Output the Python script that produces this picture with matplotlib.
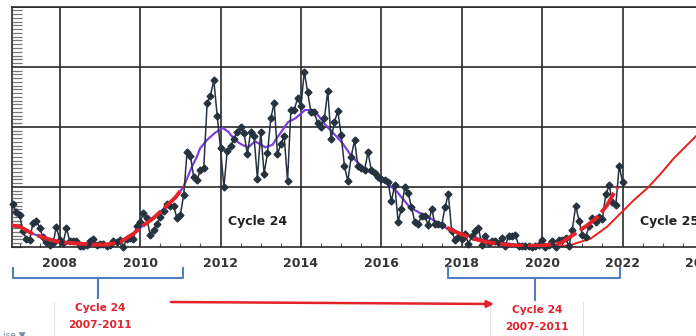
import numpy as np
import matplotlib.pyplot as plt
from matplotlib.ticker import MultipleLocator

# monthly sunspot numbers, Nov 2006 .. Jan 2022
ssn_2006 = [36, 29]
ssn_2007 = [27, 13, 7, 6, 20, 22, 16, 8, 4, 2, 3, 17]
ssn_2008 = [5.5, 3.5, 15.5, 4.8, 4.8, 5.2, 0.8, 0.8, 1.8, 4.8, 6.8, 1.3]
ssn_2009 = [2.5, 2.3, 1.2, 2.0, 4.8, 4.3, 5.8, 0.0, 7.0, 7.7, 7.0, 17.7]
ssn_2010 = [21, 28, 24, 10, 14, 19, 25, 30, 36, 34, 34, 24]
ssn_2011 = [27, 43, 79, 76, 58, 56, 64, 66, 120, 126, 139, 109]
ssn_2012 = [82, 50, 80, 84, 90, 96, 100, 95, 77, 96, 92, 57]
ssn_2013 = [96, 61, 78, 107, 120, 77, 86, 92, 55, 114, 114, 124]
ssn_2014 = [117, 146, 129, 112, 112, 103, 100, 107, 130, 90, 104, 113]
ssn_2015 = [93, 67, 55, 75, 89, 67, 66, 64, 79, 64, 62, 58]
ssn_2016 = [57, 56, 54, 38, 52, 21, 32, 50, 45, 33, 21, 19]
ssn_2017 = [26, 26, 18, 32, 19, 19, 18, 33, 44, 13, 6, 8]
ssn_2018 = [7, 11, 2.5, 9, 13, 16, 1.6, 9, 3.3, 5, 5, 3]
ssn_2019 = [7.7, 0.8, 9.4, 9.1, 10, 1.2, 0.9, 0.5, 1.1, 0.4, 0.5, 1.5]
ssn_2020 = [6.2, 0.2, 1.5, 5.2, 0.2, 5.8, 6.1, 7.5, 0.6, 14.4, 34, 22]
ssn_2021 = [10.4, 8.2, 17.2, 24.5, 21.2, 25, 23.4, 44, 51.3, 37.4, 34.8, 67.5]
ssn_2022 = [54]

# smoothed curve (purple)
smooth_t = [2006.8, 2007.0, 2007.33, 2007.67, 2008.0, 2008.42, 2008.83, 2009.17,
            2009.5, 2009.83, 2010.08, 2010.33, 2010.62, 2010.87, 2011.08, 2011.29,
            2011.41, 2011.49, 2011.66, 2011.86, 2012.06, 2012.19, 2012.36, 2012.54,
            2012.69, 2012.86, 2013.11, 2013.29, 2013.43, 2013.68, 2013.86, 2014.1,
            2014.28, 2014.42, 2014.6, 2014.77, 2015.02, 2015.27, 2015.52, 2015.72,
            2016.04, 2016.39, 2016.71, 2017.03, 2017.38, 2017.7, 2018.13, 2018.53,
            2018.95, 2019.45, 2019.95, 2020.27]
smooth_v = [18, 17, 11, 7, 4, 3, 2, 2,
            4, 11, 18, 24, 33, 41, 50, 67,
            75, 82, 89, 95, 99, 96, 89, 85,
            83, 88, 83, 85, 92, 104, 107, 114,
            114, 110, 102, 96, 87, 75, 67, 62,
            56, 46, 33, 27, 21, 14, 10, 6,
            3.5, 1.7, 1, 2]

# red thick overlay: cycle 24 rise 2007-2011, and the same shape at 2018-2022
red1_t = [2006.8, 2007.0, 2007.33, 2007.67, 2008.0, 2008.42, 2008.83, 2009.17,
          2009.5, 2009.83, 2010.08, 2010.33, 2010.62, 2010.87, 2011.08]
red1_v = [18, 17, 11, 7, 4, 3, 2, 2, 4, 11, 18, 24, 33, 41, 50]
red2_t = [2017.63, 2017.96, 2018.28, 2018.63, 2018.95, 2019.45, 2019.95, 2020.44,
          2020.77, 2021.12, 2021.38, 2021.62, 2021.87]
red2_v = [16, 11, 7, 4, 2.5, 1, 1, 3, 10, 18, 25, 35, 50]

# cycle 25 prediction (thin red)
c25_t = [2020.0, 2020.3, 2020.71, 2021.21, 2021.62, 2021.95, 2022.28, 2022.62,
         2022.95, 2023.28, 2023.61, 2023.85, 2024.3]
c25_v = [0, 0, 1.7, 7, 17, 28, 39, 49, 61, 74, 85, 93, 108]

year_ticks = [2008, 2010, 2012, 2014, 2016, 2018, 2020, 2022, 2024]

ssn = (ssn_2006 + ssn_2007 + ssn_2008 + ssn_2009 + ssn_2010 + ssn_2011 + ssn_2012
       + ssn_2013 + ssn_2014 + ssn_2015 + ssn_2016 + ssn_2017 + ssn_2018 + ssn_2019
       + ssn_2020 + ssn_2021 + ssn_2022)
months = 2006 + 10 / 12 + np.arange(len(ssn)) / 12

W, H = 696, 336
fig = plt.figure(figsize=(W / 100, H / 100), dpi=100)
fig.patch.set_facecolor('white')

# axes placed in pixel terms; right edge runs past the figure (cropped chart)
ax = fig.add_axes([11.5 / W, 89 / H, 703.5 / W, 240.3 / H])
ax.set_xlim(2006.8, 2024.3)
ax.set_ylim(0, 200)

ax.plot(smooth_t, smooth_v, color='#7b3fe0', lw=1.6, zorder=2)
ax.plot(months, ssn, color='#26323d', lw=1.1, marker='D', markersize=3.5,
        zorder=3, clip_on=False)
for t, v in [(red1_t, red1_v), (red2_t, red2_v)]:
    ax.plot(t, v, color='#e3222a', lw=2.8, dashes=(6, 1.2), zorder=4)
ax.plot(c25_t, c25_v, color='#e8211b', lw=1.4, zorder=2)

ax.text(2012.93, 21, 'Cycle 24', ha='center', va='center', fontsize=9,
        fontweight='bold', color='#222222')
ax.text(2022.43, 21, 'Cycle 25', ha='left', va='center', fontsize=9,
        fontweight='bold', color='#222222')

ax.set_xticks(year_ticks)
ax.set_xticklabels([str(y) for y in year_ticks])
ax.xaxis.set_minor_locator(MultipleLocator(0.5))
ax.set_yticks([50, 100, 150, 200])
ax.set_yticklabels([])
ax.yaxis.set_minor_locator(MultipleLocator(50 / 16))
ax.tick_params(axis='x', which='major', length=0, pad=7, labelsize=9,
               labelcolor='#333333')
for lab in ax.get_xticklabels():
    lab.set_fontweight('bold')
ax.tick_params(axis='x', which='minor', direction='in', length=3, width=0.8,
               color='#555555')
ax.tick_params(axis='y', which='major', length=0)
ax.tick_params(axis='y', which='minor', direction='in', length=7.5, width=0.9,
               color='#777777')
ax.grid(True, which='major', color='#2a2a2a', lw=1.2)
for s in ['left', 'bottom', 'top']:
    ax.spines[s].set_color('#2a2a2a')
    ax.spines[s].set_linewidth(1.2)

# annotation layer in pixel coordinates
ov = fig.add_axes([0, 0, 1, 1], facecolor='none')
ov.set_xlim(0, W)
ov.set_ylim(H, 0)
ov.axis('off')

blue = '#4f7fc0'
red = '#e3222a'
ov.plot([13, 13, 183, 183], [268, 278, 278, 268], color=blue, lw=1.5)
ov.plot([98, 98], [278, 298], color=blue, lw=1.5)
ov.plot([448, 448, 620, 620], [267, 278, 278, 267], color=blue, lw=1.5)
ov.plot([535, 535], [278, 300], color=blue, lw=1.5)

for x in [54, 490, 583]:
    ov.plot([x, x], [302, H], color='#e4e4e4', lw=0.8)

ov.annotate('', xy=(494, 304), xytext=(171, 302),
            arrowprops=dict(arrowstyle='-|>', color=red, lw=1.8,
                            mutation_scale=10, shrinkA=0, shrinkB=0))

for x, y0 in [(100, 308), (537, 310)]:
    ov.text(x, y0, 'Cycle 24', ha='center', va='center', fontsize=7.7,
            fontweight='bold', color=red)
    ov.text(x, y0 + 17, '2007-2011', ha='center', va='center', fontsize=7.7,
            fontweight='bold', color=red)

ov.text(3, 335, 'ise \u25bc', ha='left', va='center', fontsize=6.5,
        color='#7a8aa0')

fig.savefig('out.png', dpi=100)
